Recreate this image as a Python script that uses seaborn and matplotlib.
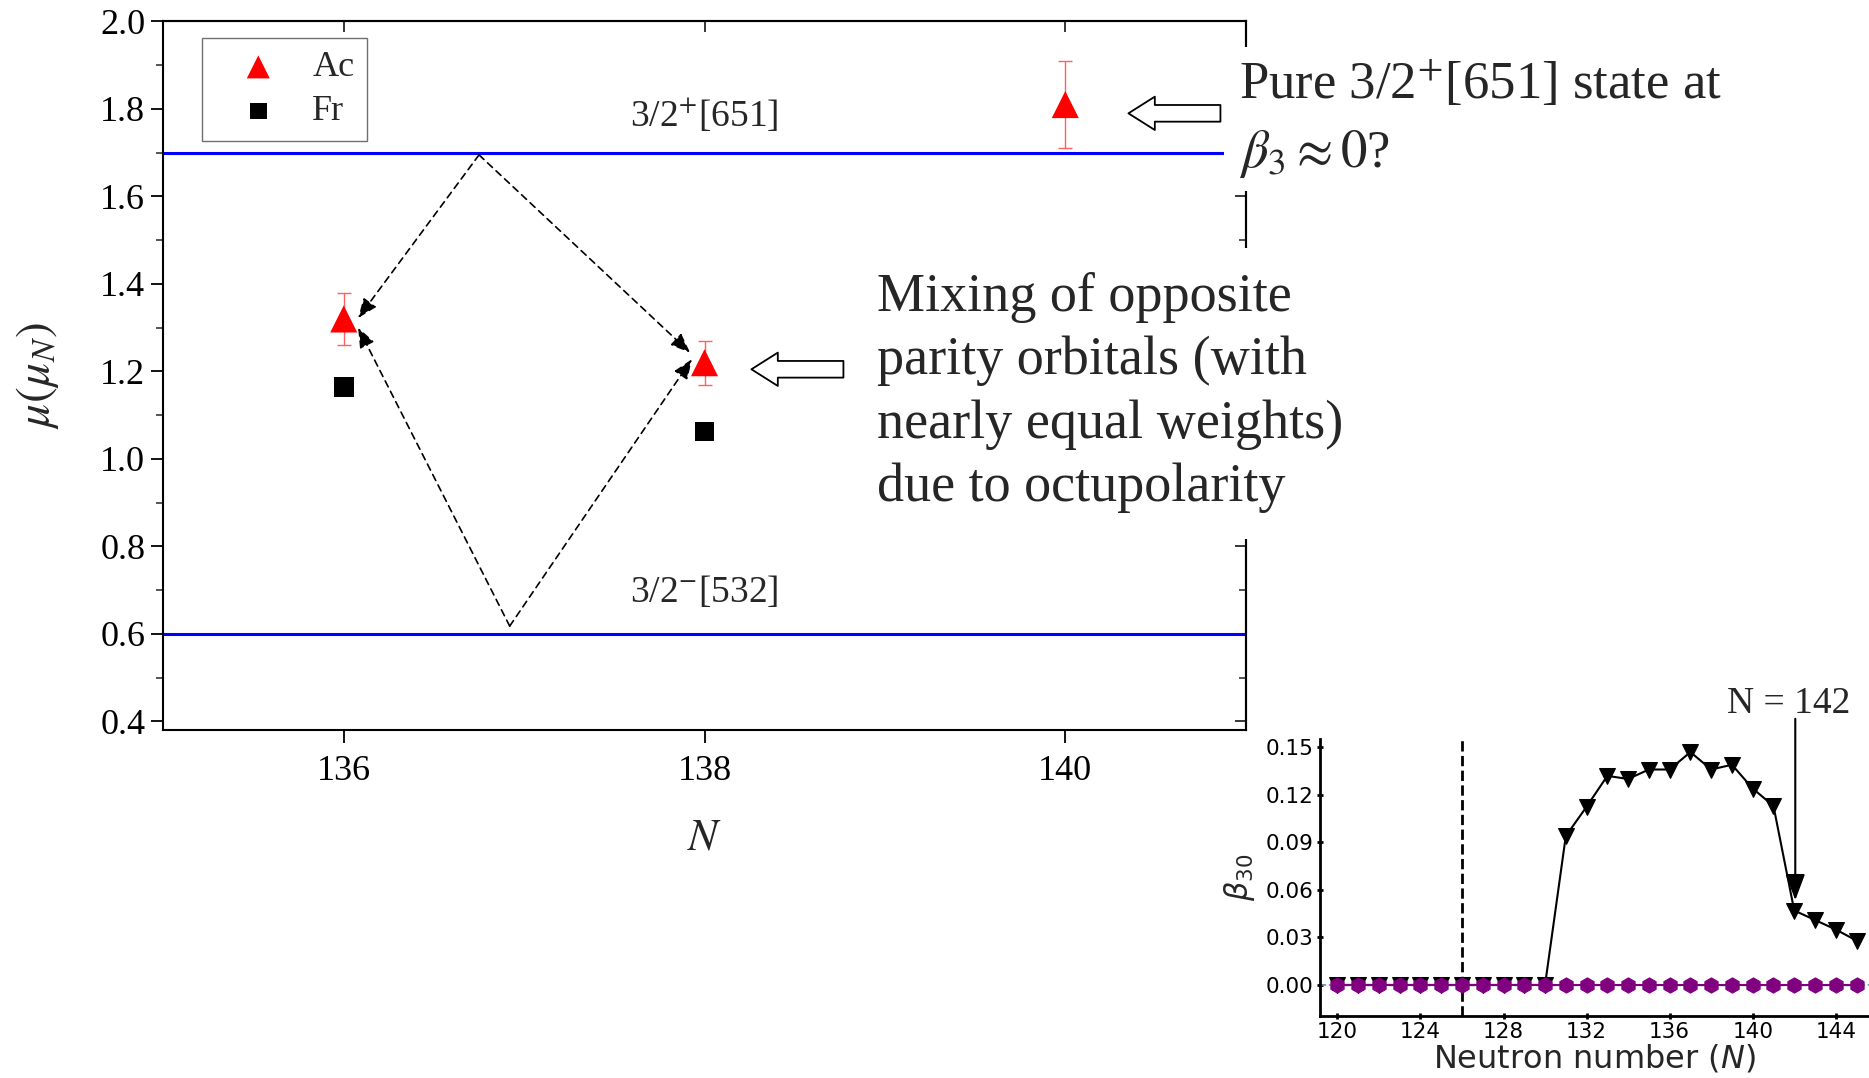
import matplotlib

matplotlib.use("Agg")
import matplotlib.pyplot as plt
from matplotlib.patches import Rectangle
from matplotlib.ticker import FormatStrFormatter, MultipleLocator
import seaborn as sns

# main panel: measured magnetic moments
N_AC = [136, 138, 140]
MU_AC = [1.32, 1.22, 1.81]
ERR_AC = [0.06, 0.05, 0.10]
N_FR = [136, 138]
MU_FR = [1.165, 1.063]
LEVELS = [1.7, 0.6]
LEVEL_LABELS = [r"3/2$^{+}$[651]", r"3/2$^{-}$[532]"]
LEVEL_LABEL_Y = [1.786, 0.696]

# inset: octupole deformation vs neutron number
N_INSET = [120, 121, 122, 123, 124, 125, 126, 127, 128, 129, 130, 131, 132,
           133, 134, 135, 136, 137, 138, 139, 140, 141, 142, 143, 144, 145]
BETA30_OCT = [0.0, 0.0, 0.0, 0.0, 0.0, 0.0, 0.0, 0.0, 0.0, 0.0, 0.0, 0.094, 0.1125,
              0.132, 0.130, 0.136, 0.136, 0.147, 0.136, 0.139, 0.124, 0.113, 0.047,
              0.041, 0.035, 0.028]
BETA30_SPH = [0.0, 0.0, 0.0, 0.0, 0.0, 0.0, 0.0, 0.0, 0.0, 0.0, 0.0, 0.0, 0.0,
              0.0, 0.0, 0.0, 0.0, 0.0, 0.0, 0.0, 0.0, 0.0, 0.0, 0.0, 0.0, 0.0]
BETA30_REF = [0.0, 0.0, 0.0, 0.0, 0.0, 0.0, 0.0, 0.0, 0.0, 0.0, 0.0, 0.0, 0.0,
              0.0, 0.0, 0.0, 0.0, 0.0, 0.0, 0.0, 0.0, 0.0, 0.0, 0.0, 0.0, 0.0]

sns.set_theme(style="ticks")
plt.rcParams["font.family"] = ["Liberation Serif", "DejaVu Serif"]
plt.rcParams["mathtext.fontset"] = "stix"

fig = plt.figure(figsize=(18.69, 10.78), dpi=100)
fig.patch.set_facecolor("white")

# ---------------- main axes ----------------
ax = fig.add_axes([0.0874, 0.3230, 0.5791, 0.6571])
for y in LEVELS:
    ax.axhline(y, color="#0000ff", lw=2.2, zorder=1)
for y, lab in zip(LEVEL_LABEL_Y, LEVEL_LABELS):
    ax.text(138, y, lab, ha="center", va="center", fontsize=27)

ax.errorbar(N_AC, MU_AC, yerr=ERR_AC, fmt="none", ecolor="#ff6060",
            elinewidth=1.0, capsize=5, capthick=1.0, zorder=2)
sns.scatterplot(x=N_AC, y=MU_AC, marker="^", s=380, color="red",
                edgecolor="none", label="Ac", ax=ax, zorder=3)
sns.scatterplot(x=N_FR, y=MU_FR, marker="s", s=200, color="black",
                edgecolor="none", label="Fr", ax=ax, zorder=3)

# dashed "mixing" arrows
top_v, bot_v = (136.75, 1.695), (136.92, 0.618)
for start, end in [(top_v, (136.08, 1.322)), (top_v, (137.92, 1.243)),
                   (bot_v, (136.08, 1.300)), (bot_v, (137.93, 1.228))]:
    ax.annotate("", xy=end, xytext=start,
                arrowprops=dict(arrowstyle="-|>,head_length=0.6,head_width=0.24",
                                linestyle=(0, (4, 3)), color="black", lw=1.2,
                                shrinkA=0, shrinkB=0, mutation_scale=20))

# open block arrows
for tip, tail in [((140.35, 1.79), (140.86, 1.79)), ((138.26, 1.205), (138.77, 1.205))]:
    ax.annotate("", xy=tip, xytext=tail, annotation_clip=False,
                arrowprops=dict(arrowstyle="simple,head_length=0.95,head_width=1.2,tail_width=0.6",
                                fc="white", ec="black", lw=1.3, shrinkA=0, shrinkB=0,
                                mutation_scale=20))

ax.set_xlim(135, 141)
ax.set_ylim(0.381, 2.0)
ax.set_xticks([136, 138, 140])
ax.yaxis.set_major_locator(MultipleLocator(0.2))
ax.yaxis.set_minor_locator(MultipleLocator(0.1))
ax.yaxis.set_major_formatter(FormatStrFormatter("%.1f"))
ax.tick_params(axis="both", which="major", direction="out", length=9, width=1.3,
               labelsize=26, colors="black")
ax.tick_params(axis="y", which="minor", direction="out", length=5, width=1.1, left=True)
ax.tick_params(axis="y", pad=4)
ax.tick_params(axis="x", pad=9)
for sp in ax.spines.values():
    sp.set_linewidth(1.5)
    sp.set_color("black")

sec_top = ax.secondary_xaxis("top")
sec_top.set_xticks([136, 138, 140], labels=["", "", ""])
sec_top.tick_params(direction="in", length=8, width=1.3)
sec_right = ax.secondary_yaxis("right")
sec_right.yaxis.set_major_locator(MultipleLocator(0.2))
sec_right.yaxis.set_minor_locator(MultipleLocator(0.1))
sec_right.tick_params(which="major", direction="in", length=8, width=1.3,
                      labelright=False, labelleft=False)
sec_right.tick_params(which="minor", direction="in", length=5, width=1.1)
for s in (sec_top, sec_right):
    for sp in s.spines.values():
        sp.set_linewidth(1.5)

ax.set_ylabel(r"$\mu(\mu_N)$", fontsize=34, labelpad=28)
ax.set_xlabel(r"$N$", fontsize=32, labelpad=22)

leg = ax.legend(loc="upper left", bbox_to_anchor=(0.036, 0.976), fontsize=26,
                frameon=True, fancybox=False, edgecolor="#707070", framealpha=1,
                borderpad=0.35, borderaxespad=0, handlelength=2.4, handletextpad=0.3,
                labelspacing=0.3, markerscale=0.85)
leg.get_frame().set_linewidth(1.0)

# white panels behind the comments
fig.add_artist(Rectangle((0.655, 0.823), 0.345, 0.133, transform=fig.transFigure,
                         fc="white", ec="none", zorder=5))
fig.add_artist(Rectangle((0.4605, 0.50), 0.2634, 0.27, transform=fig.transFigure,
                         fc="white", ec="none", zorder=5))
fig.text(0.663, 0.945, "Pure 3/2$^{+}$[651] state at\n$\\beta_3 \\approx 0$?",
         fontsize=38, va="top", ha="left", linespacing=1.45, zorder=6)
fig.text(0.469, 0.748, "Mixing of opposite\nparity orbitals (with\nnearly equal weights)\ndue to octupolarity",
         fontsize=39, va="top", ha="left", linespacing=1.34, zorder=6)

# ---------------- inset ----------------
ax2 = fig.add_axes([0.706, 0.0575, 0.294, 0.2566])
ax2.set_facecolor("white")
ax2.axvline(126, color="black", ls="--", lw=2)
ax2.axhline(0, color="#5a9ab0", ls="--", lw=1.2, zorder=1)
sns.lineplot(x=N_INSET, y=BETA30_OCT, marker="v", color="black", markersize=11,
             markeredgecolor="black", lw=1.5, ax=ax2, zorder=3)
sns.lineplot(x=N_INSET, y=BETA30_REF, marker="^", color="#2f9a9a", markersize=7,
             markeredgecolor="#2f9a9a", ls="--", lw=1.0, ax=ax2, zorder=3.5)
sns.lineplot(x=N_INSET, y=BETA30_SPH, marker="h", color="purple", markersize=11,
             markeredgecolor="purple", lw=1.5, ax=ax2, zorder=4)
sns.despine(ax=ax2)
ax2.set_xlim(119.14, 145.6)
ax2.set_ylim(-0.0196, 0.155)
ax2.set_xticks([120, 124, 128, 132, 136, 140, 144])
ax2.set_yticks([0.0, 0.03, 0.06, 0.09, 0.12, 0.15])
ax2.yaxis.set_major_formatter(FormatStrFormatter("%.2f"))
ax2.tick_params(direction="inout", length=5, width=2, labelsize=15.5, colors="black", pad=2)
for lab in ax2.get_xticklabels() + ax2.get_yticklabels():
    lab.set_fontfamily("DejaVu Sans")
for sp in ("left", "bottom"):
    ax2.spines[sp].set_linewidth(2)
    ax2.spines[sp].set_color("black")
ax2.set_xlabel("Neutron number ($N$)", fontsize=23, family="DejaVu Sans",
               math_fontfamily="dejavusans", labelpad=0)
ax2.set_ylabel(r"$\beta_{30}$", fontsize=22, math_fontfamily="dejavusans", labelpad=6)

ax2.annotate("", xy=(142.05, 0.0535), xytext=(142.05, 0.168), annotation_clip=False,
             arrowprops=dict(arrowstyle="-|>,head_length=0.8,head_width=0.3",
                             color="black", lw=1.5, shrinkA=0, shrinkB=0, mutation_scale=20))
fig.text(0.957, 0.347, "N = 142", ha="center", va="center", fontsize=27)

fig.savefig("out.png", dpi=100, facecolor="white")
